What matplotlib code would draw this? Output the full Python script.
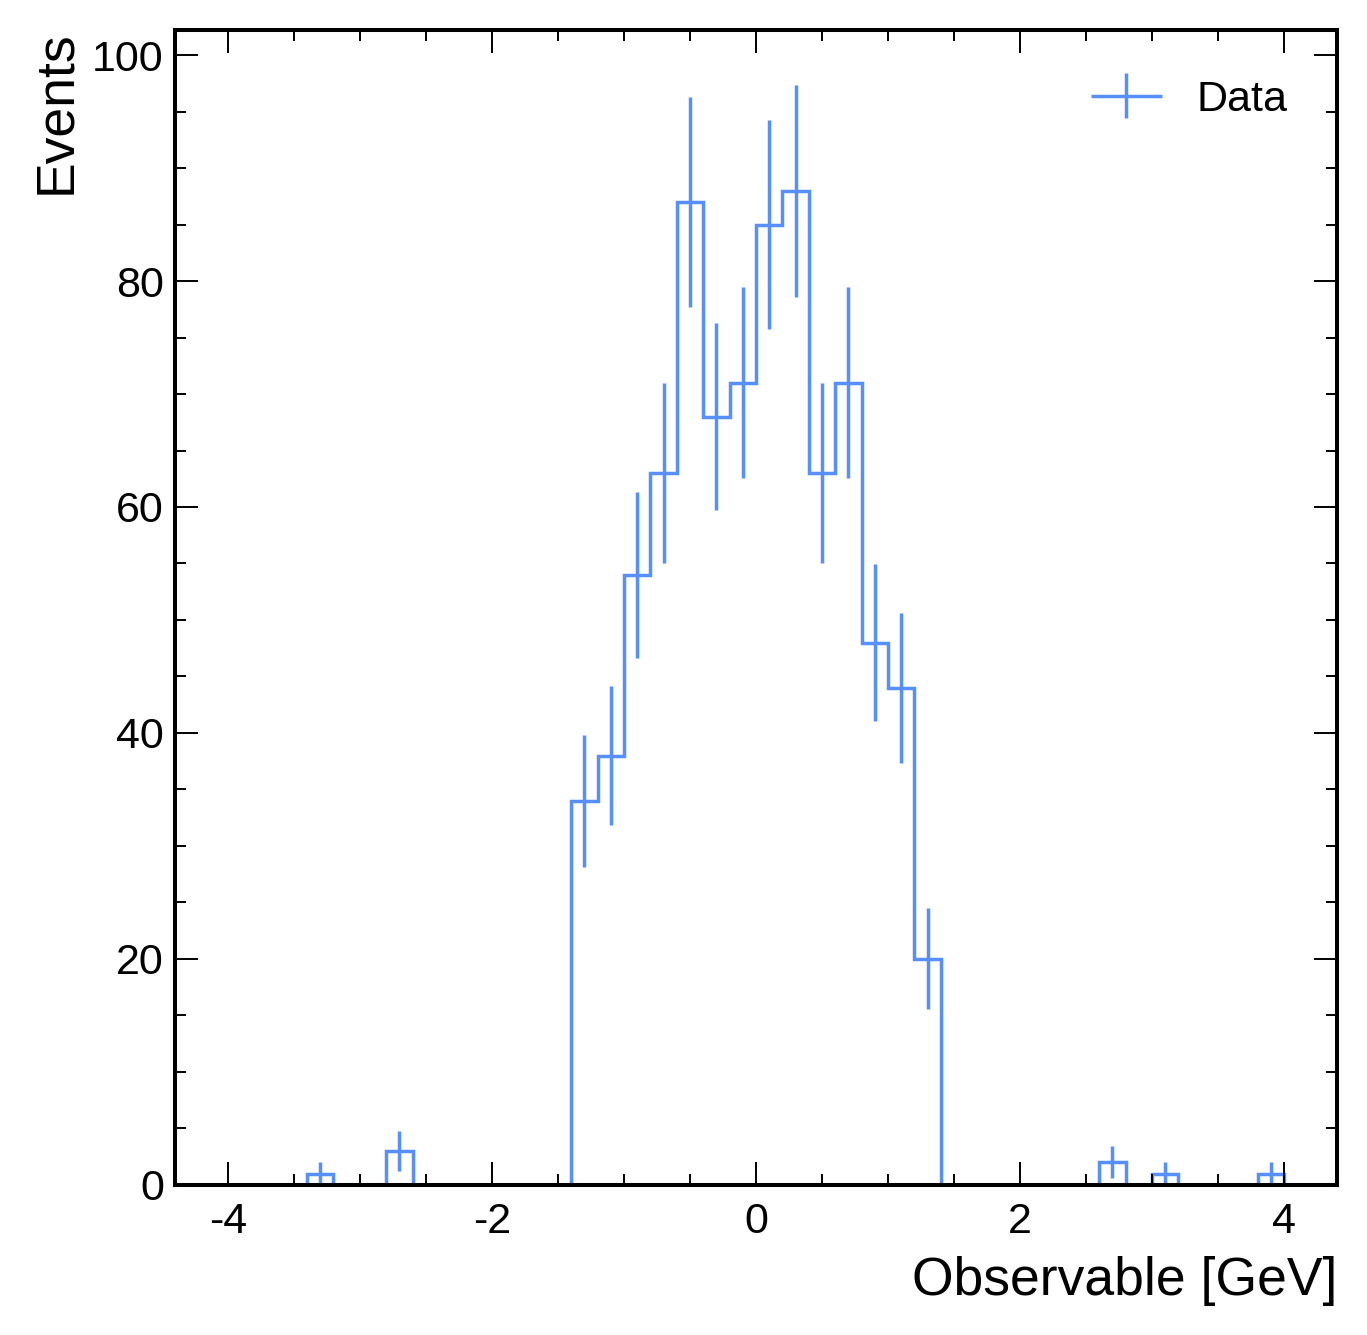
import numpy as np
import matplotlib
matplotlib.use("Agg")
import matplotlib.pyplot as plt
from matplotlib.ticker import MultipleLocator
from matplotlib.legend_handler import HandlerErrorbar
from matplotlib.container import ErrorbarContainer

# histogram: 44 bins of width 0.2 between -4.4 and 4.4
bin_edges = np.round(np.linspace(-4.4, 4.4, 45), 2)
counts = [
    0, 0, 0, 0, 0, 1, 0, 0, 3, 0,
    0, 0, 0, 0, 0, 34, 38, 54, 63, 87,
    68, 71, 85, 88, 63, 71, 48, 44, 20, 0,
    0, 0, 0, 0, 0, 2, 0, 1, 0, 0,
    0, 1, 0, 0,
]
series_label = "Data"
x_label = "Observable [GeV]"
y_label = "Events"

color = "#5790fc"
plt.rcParams["font.family"] = ["Liberation Sans", "DejaVu Sans"]
plt.rcParams["axes.unicode_minus"] = False

fig = plt.figure(figsize=(13.67, 13.35), dpi=100)
ax = fig.add_axes([0.128, 0.1124, 0.85, 0.865])

counts = np.array(counts, dtype=float)
centers = 0.5 * (bin_edges[1:] + bin_edges[:-1])
ax.stairs(counts, bin_edges, color=color, linewidth=2.5)

mask = counts > 0
ax.errorbar(centers[mask], counts[mask], yerr=np.sqrt(counts[mask]),
            fmt="none", ecolor=color, elinewidth=2.5)

# proxy for the legend handle
ax.errorbar([np.nan], [np.nan], xerr=[1], yerr=[1], fmt="none",
            ecolor=color, elinewidth=2.5, label=series_label)

ax.set_xlim(-4.4, 4.4)
ax.set_ylim(0, 102.2)
ax.xaxis.set_major_locator(MultipleLocator(2))
ax.xaxis.set_minor_locator(MultipleLocator(0.5))
ax.yaxis.set_major_locator(MultipleLocator(20))
ax.yaxis.set_minor_locator(MultipleLocator(5))

ax.tick_params(which="both", direction="in", top=True, right=True,
               labelsize=31, width=1.4)
ax.tick_params(axis="y", pad=8)
ax.tick_params(axis="x", pad=12)
ax.tick_params(which="major", length=16.5)
ax.tick_params(which="minor", length=8)
for sp in ax.spines.values():
    sp.set_linewidth(2.9)

ax.set_xlabel(x_label, fontsize=38.5, loc="right", labelpad=10)
ax.set_ylabel(y_label, fontsize=38.5, loc="top", labelpad=8)

ax.legend(loc="upper right", fontsize=31, frameon=False,
          handlelength=1.65, handletextpad=0.8, borderaxespad=0.75,
          handler_map={ErrorbarContainer: HandlerErrorbar(xerr_size=0.82, yerr_size=0.52)})

fig.savefig("out.png", dpi=100)
